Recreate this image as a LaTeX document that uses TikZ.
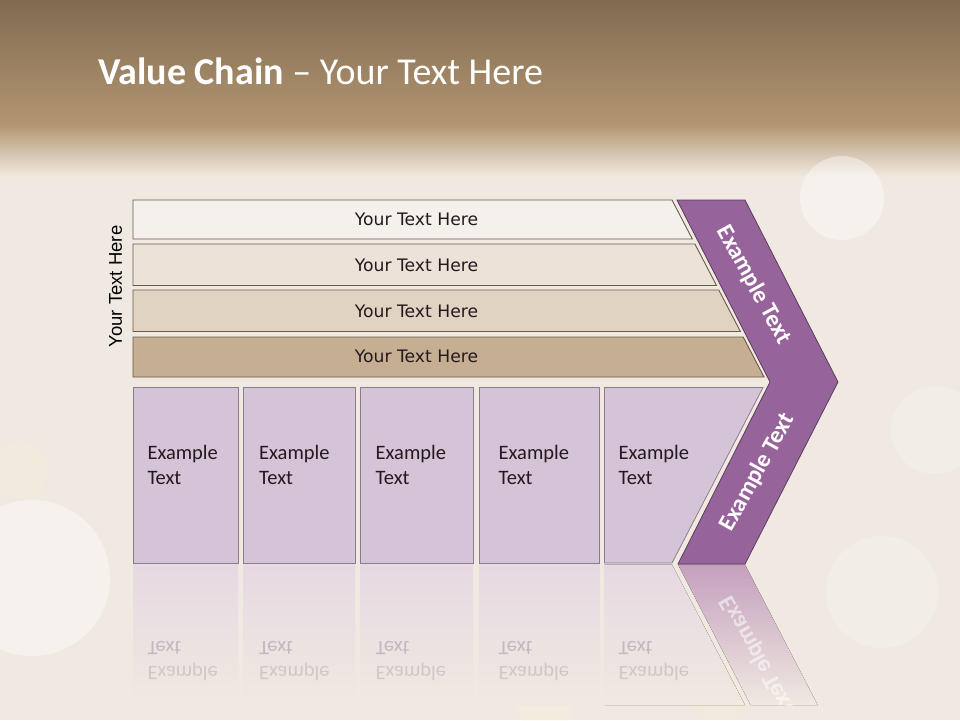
\documentclass[tikz,border=0pt]{standalone}
\usepackage{fontspec}
\setmainfont{Carlito}
\newfontfamily\barfont{DejaVu Sans}
\newfontfamily\arialfont{Liberation Sans}
\definecolor{bgtop}{RGB}{128,107,80}
\definecolor{bgmid}{RGB}{179,150,114}
\definecolor{bglight}{RGB}{242,236,228}
\definecolor{bgbase}{RGB}{240,233,225}
\definecolor{barA}{RGB}{244,240,235}
\definecolor{barB}{RGB}{236,226,215}
\definecolor{barC}{RGB}{225,211,194}
\definecolor{barD}{RGB}{198,174,147}
\definecolor{barline}{RGB}{107,90,72}
\definecolor{lav}{RGB}{213,195,216}
\definecolor{lavline}{RGB}{138,127,136}
\definecolor{lavrefl}{RGB}{230,217,226}
\definecolor{plum}{RGB}{150,100,155}
\definecolor{plumline}{RGB}{90,60,95}
\definecolor{plumrefl}{RGB}{196,160,190}
\definecolor{textdark}{RGB}{35,25,30}
\definecolor{refltext}{RGB}{196,184,192}
\tikzset{
  barshape/.style={draw=barline, line width=0.9pt},
  boxshape/.style={fill=lav, draw=lavline, line width=0.8pt},
  bartext/.style={font=\barfont\fontsize{17.2}{20}\selectfont, text=textdark, inner sep=0pt},
  boxtext/.style={font=\fontsize{20.5}{25}\selectfont, text=textdark, align=left, anchor=north west, inner sep=0pt},
  refltextstyle/.style={font=\fontsize{20.5}{25}\selectfont, text=refltext, anchor=base west, inner sep=0pt, yscale=-1},
  chevtext/.style={font=\bfseries\fontsize{24}{28}\selectfont, text=white, inner sep=0pt},
  bokeh/.style={fill=white, opacity=0.22},
}
\begin{document}
\begin{tikzpicture}[x=1pt,y=-1pt]
\useasboundingbox (0,0) rectangle (960,720);
% background
\fill[top color=bgtop, bottom color=bgmid] (0,0) rectangle (960,126);
\fill[top color=bgmid, bottom color=bglight] (0,125) rectangle (960,178);
\fill[bgbase] (0,177) rectangle (960,720);
% bokeh
\fill[bokeh, opacity=0.4] (842,198) circle (42);
\fill[bokeh] (935,430) circle (44);
\fill[bokeh, opacity=0.4] (32,578) circle (78);
\fill[bokeh] (882,592) circle (56);
\fill[bokeh, opacity=0.25, fill={rgb,255:red,250;green,245;blue,220}] (545,705) circle (28);
\fill[bokeh, opacity=0.2, fill={rgb,255:red,250;green,240;blue,210}] (720,690) circle (30);
\fill[bokeh, opacity=0.2, fill={rgb,255:red,250;green,240;blue,200}] (20,470) circle (28);
% title
\node[anchor=base west, text=white, font=\fontsize{38}{44}\selectfont, inner sep=0pt] (title) at (98,84) {\textbf{Value Chain} – Your Text Here};
% side label
\node[rotate=90, font=\arialfont\fontsize{18.5}{22}\selectfont, text=black, inner sep=0pt] (side) at (115.5,286.5) {Your Text Here};
% bars
\draw[barshape, fill=barA] (133,200) -- (672,200) -- (692.3,239) -- (133,239) -- cycle;
\draw[barshape, fill=barB] (133,244) -- (694.9,244) -- (716.5,285.5) -- (133,285.5) -- cycle;
\draw[barshape, fill=barC] (133,290) -- (718.8,290) -- (740.4,331.5) -- (133,331.5) -- cycle;
\draw[barshape, fill=barD] (133,337) -- (743.2,337) -- (764,377) -- (133,377) -- cycle;
\node[bartext] (b1) at (416.5,219) {Your Text Here};
\node[bartext] (b2) at (416.5,265.5) {Your Text Here};
\node[bartext] (b3) at (416.5,311) {Your Text Here};
\node[bartext] (b4) at (416.5,356.5) {Your Text Here};
% reflections
\fill[top color=lavrefl, bottom color=bgbase] (133,564.5) rectangle (238,705);
\fill[top color=lavrefl, bottom color=bgbase] (243.5,564.5) rectangle (355,705);
\fill[top color=lavrefl, bottom color=bgbase] (360.5,564.5) rectangle (473,705);
\fill[top color=lavrefl, bottom color=bgbase] (479.5,564.5) rectangle (599.5,705);
\fill[top color=lavrefl, bottom color=bgbase] (604.5,564.5) -- (672,564.5) -- (745,705) -- (604.5,705) -- cycle;
\fill[top color=plumrefl, bottom color=bgbase] (678,564.5) -- (745,564.5) -- (817.6,705) -- (750.6,705) -- cycle;
\foreach \xx/\nm in {147.3/r1,259/r2,375.5/r3,498.5/r4,618.5/r5}{
  \node[refltextstyle] (\nm t) at (\xx,641) {Text};
  \node[refltextstyle, text=refltext!70!bgbase] (\nm e) at (\xx,666) {Example};
}
\begin{scope}
\clip (678,564.5) -- (745,564.5) -- (817.6,705) -- (750.6,705) -- cycle;
\node[chevtext, rotate=-61, yscale=-1, opacity=0.55] (chevrefl) at (757.5,654.5) {Example Text};
\end{scope}
% boxes
\draw[boxshape] (133,387.5) rectangle (238,563);
\draw[boxshape] (243.5,387.5) rectangle (355,563);
\draw[boxshape] (360.5,387.5) rectangle (473,563);
\draw[boxshape] (479.5,387.5) rectangle (599.5,563);
\draw[boxshape] (604.5,387.5) -- (763,387.5) -- (672,563) -- (604.5,563) -- cycle;
\node[boxtext] (t1) at (147.3,445) {Example\\Text};
\node[boxtext] (t2) at (259,445) {Example\\Text};
\node[boxtext] (t3) at (375.5,445) {Example\\Text};
\node[boxtext] (t4) at (498.5,445) {Example\\Text};
\node[boxtext] (t5) at (618.5,445) {Example\\Text};
% chevron
\draw[fill=plum, draw=plumline, line width=0.8pt] (677,200) -- (745,200) -- (838,382) -- (745,564) -- (678,564) -- (770,382) -- cycle;
\node[chevtext, rotate=-61] (c1) at (754,285) {Example Text};
\node[chevtext, rotate=61] (c2) at (757.5,472.5) {Example Text};
\end{tikzpicture}
\end{document}
